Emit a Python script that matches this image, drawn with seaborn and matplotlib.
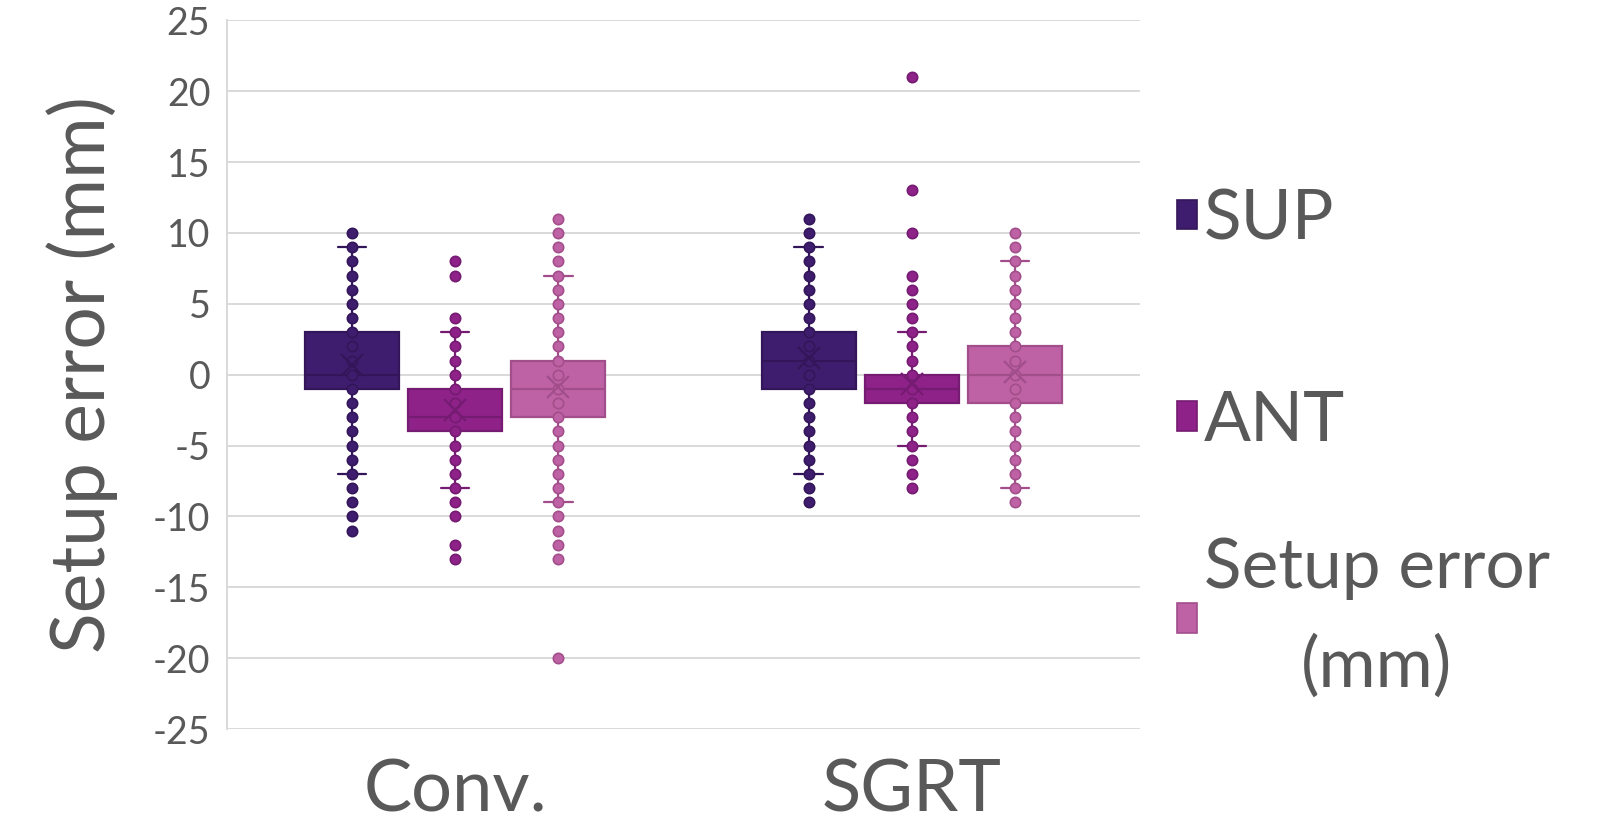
import numpy as np
import pandas as pd
import seaborn as sns
import matplotlib.pyplot as plt
import matplotlib.colors as mcolors
from matplotlib.patches import Patch

groups = ["Conv.", "SGRT"]
series = ["SUP", "ANT", "Setup error (mm)"]
legend_labels = ["SUP", "ANT", "Setup error\n(mm)"]

# distinct setup errors (mm) seen in the chart and estimated counts of each
conv_sup_vals = [-11, -10, -9, -8, -7, -6, -5, -4, -3, -2, -1, 0, 1, 2, 3, 4, 5, 6, 7, 8, 9, 10]
conv_sup_counts = [1, 1, 1, 2, 2, 2, 3, 3, 3, 4, 12, 18, 8, 8, 10, 5, 4, 4, 3, 3, 3, 1]

conv_ant_vals = [-13, -12, -10, -9, -8, -7, -6, -5, -4, -3, -2, -1, 0, 1, 2, 3, 4, 7, 8]
conv_ant_counts = [1, 1, 1, 2, 2, 3, 4, 6, 10, 22, 14, 12, 8, 6, 4, 2, 1, 1, 1]

conv_set_vals = [-20, -13, -12, -11, -10, -9, -8, -7, -6, -5, -4, -3, -2, -1, 0, 1, 2, 3, 4, 5, 6, 7, 8, 9, 10, 11]
conv_set_counts = [1, 1, 1, 1, 1, 2, 2, 2, 3, 3, 4, 8, 10, 14, 12, 12, 5, 4, 3, 3, 2, 2, 1, 1, 1, 2]

sgrt_sup_vals = [-9, -8, -7, -6, -5, -4, -3, -2, -1, 0, 1, 2, 3, 4, 5, 6, 7, 8, 9, 10, 11]
sgrt_sup_counts = [1, 1, 2, 2, 3, 3, 4, 5, 8, 12, 14, 12, 10, 6, 4, 4, 3, 3, 2, 1, 1]

sgrt_ant_vals = [-8, -7, -6, -5, -4, -3, -2, -1, 0, 1, 2, 3, 4, 5, 6, 7, 10, 13, 21]
sgrt_ant_counts = [2, 3, 3, 4, 5, 7, 10, 22, 22, 9, 5, 2, 1, 1, 1, 1, 1, 1, 1]

sgrt_set_vals = [-9, -8, -7, -6, -5, -4, -3, -2, -1, 0, 1, 2, 3, 4, 5, 6, 7, 8, 9, 10]
sgrt_set_counts = [1, 2, 2, 3, 3, 4, 6, 9, 12, 14, 12, 10, 6, 4, 3, 3, 2, 2, 2, 1]

fill = {"SUP": "#3F1D6E", "ANT": "#8E2289", "Setup error (mm)": "#BE62A5"}
edge = {"SUP": "#331659", "ANT": "#751B71", "Setup error (mm)": "#A24E8B"}
text_col = "#595959"

tables = [
    ("Conv.", "SUP", conv_sup_vals, conv_sup_counts),
    ("Conv.", "ANT", conv_ant_vals, conv_ant_counts),
    ("Conv.", "Setup error (mm)", conv_set_vals, conv_set_counts),
    ("SGRT", "SUP", sgrt_sup_vals, sgrt_sup_counts),
    ("SGRT", "ANT", sgrt_ant_vals, sgrt_ant_counts),
    ("SGRT", "Setup error (mm)", sgrt_set_vals, sgrt_set_counts),
]
rows = []
for g, s, vals, cnts in tables:
    for v in np.repeat(vals, cnts):
        rows.append({"group": g, "series": s, "value": v})
df = pd.DataFrame(rows)

sns.set_style("white")
plt.rcParams["font.family"] = ["Lato", "DejaVu Sans"]
plt.rcParams["axes.unicode_minus"] = False

fig = plt.figure(figsize=(16.03, 8.27), dpi=100)
ax = fig.add_axes([0.1416, 0.1185, 0.5696, 0.8568])

sns.boxplot(data=df, x="group", y="value", hue="series", order=groups,
            hue_order=series, palette=fill, saturation=1, width=0.678, gap=0.09,
            whis=1.5, showfliers=False, showmeans=True, linecolor="#444444",
            linewidth=1.6, legend=False, ax=ax, capwidths=0.062,
            meanprops=dict(marker="x", markersize=16, markeredgewidth=1.6, zorder=6))

# work out which series each box is, then recolour its outline / lines
boxes = []
for p in ax.patches:
    bb = p.get_path().get_extents()
    fc = p.get_facecolor()
    s = min(series, key=lambda k: np.sum(np.abs(np.array(mcolors.to_rgba(fill[k])) - fc)))
    p.set_edgecolor(edge[s])
    boxes.append(((bb.x0 + bb.x1) / 2, s))

for ln in ax.lines:
    x = np.mean(ln.get_xdata())
    cx, s = min(boxes, key=lambda b: abs(b[0] - x))
    ln.set_color(edge[s])
    ln.set_markeredgecolor(edge[s])

# every distinct value as a dot on its box
for cx, s in boxes:
    g = groups[int(round(cx))]
    pts = df[(df["group"] == g) & (df["series"] == s)]["value"].unique()
    ax.scatter(np.full(len(pts), cx), pts, s=55, color=fill[s],
               edgecolor=edge[s], linewidth=1.2, zorder=5)

ax.set_xlim(-0.5, 1.5)
ax.set_ylim(-25, 25)
ax.set_yticks(range(-25, 26, 5))
ax.yaxis.grid(True, color="#D9D9D9", linewidth=1.4)
ax.set_axisbelow(True)
for sp in ["top", "right", "bottom"]:
    ax.spines[sp].set_visible(False)
ax.spines["left"].set_color("#D9D9D9")
ax.spines["left"].set_linewidth(1.4)
ax.tick_params(axis="y", length=0, labelsize=27, labelcolor=text_col, pad=12)
ax.tick_params(axis="x", length=0, labelsize=52, labelcolor=text_col, pad=21)
ax.set_xlabel("")
ax.set_ylabel("Setup error (mm)", fontsize=54, color=text_col, labelpad=25)

# Excel spaces the entries evenly, so the wrapped one gets its own legend
handles = [Patch(facecolor=fill[s], edgecolor=edge[s], linewidth=1.2) for s in series]
leg_kw = dict(loc="center left", frameon=False, fontsize=50, handlelength=0.28,
              handleheight=0.28, handletextpad=0.1, borderaxespad=0, borderpad=0)
leg1 = ax.legend(handles[:2], legend_labels[:2], bbox_to_anchor=(1.041, 0.576),
                 labelspacing=2.0, **leg_kw)
ax.add_artist(leg1)
leg2 = ax.legend(handles[2:], legend_labels[2:], bbox_to_anchor=(1.041, 0.157), **leg_kw)
for leg in (leg1, leg2):
    for t in leg.get_texts():
        t.set_color(text_col)
        t.set_multialignment("center")
        t.set_linespacing(1.65)

fig.savefig("out.png", dpi=100)
